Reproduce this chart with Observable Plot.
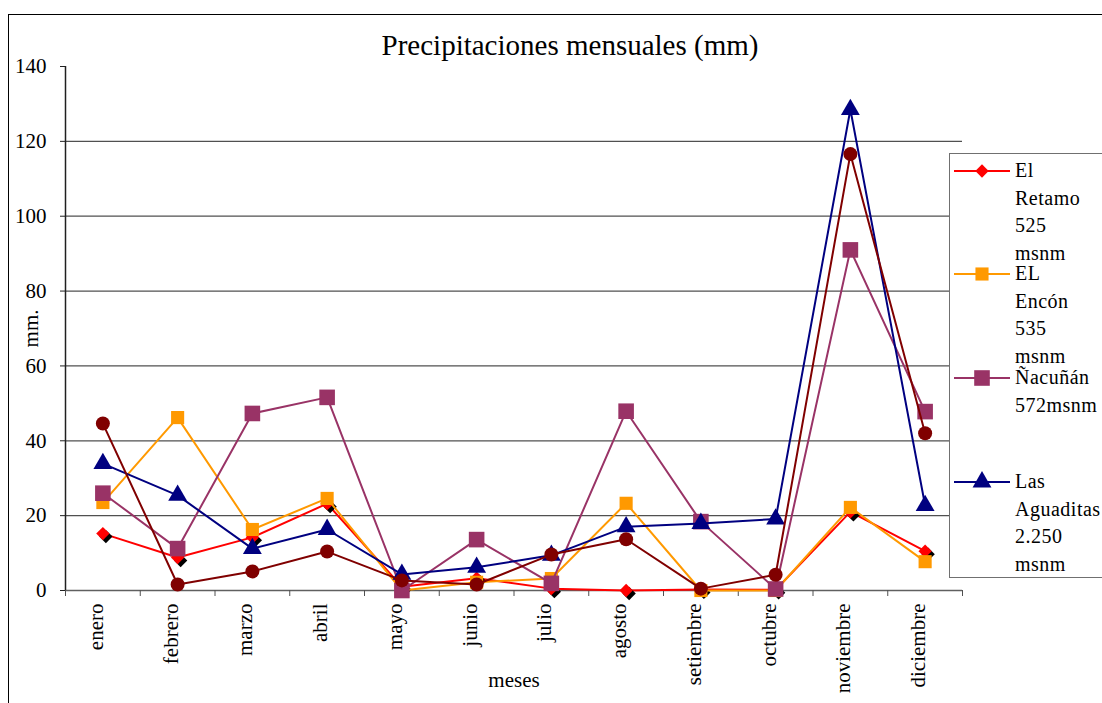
<!DOCTYPE html>
<html>
<head>
<meta charset="utf-8">
<script src="https://cdn.jsdelivr.net/npm/d3@7"></script>
<script src="https://cdn.jsdelivr.net/npm/@observablehq/plot@0.6"></script>
<style>
  html, body { margin: 0; padding: 0; background: #fff; }
  #wrap { position: relative; width: 1102px; height: 703px; overflow: hidden; font-family: "Liberation Serif", "DejaVu Serif", serif; }
  #frame { position: absolute; left: 8px; top: 14px; width: 1200px; height: 800px; border-left: 1.5px solid #000; border-top: 1.5px solid #000; }
  #title { position: absolute; left: 0; width: 1140px; top: 29px; text-align: center; font-size: 29px; color: #000; }
  #chart { position: absolute; left: 0; top: 0; }
  #legend { position: absolute; left: 949px; top: 153px; width: 200px; height: 423px; border: 1.5px solid #707070; background: #fff; }
  .entry { position: absolute; left: 0; }
  .entry svg { position: absolute; left: 4px; top: 0; }
  .entry div { position: absolute; left: 65px; top: 0; font-size: 20px; line-height: 27.6px; white-space: nowrap; color: #000; letter-spacing: 0.5px; }
</style>
</head>
<body>
<div id="wrap">
  <div id="frame"></div>
  <div id="chart"></div>
  <div id="title">Precipitaciones mensuales (mm)</div>
  <div id="legend"></div>
</div>
<script>
const months = ["enero","febrero","marzo","abril","mayo","junio","julio","agosto","setiembre","octubre","noviembre","diciembre"];
const yTicks = [0, 20, 40, 60, 80, 100, 120, 140];

const retamo    = [15.2, 8.8, 14.2, 23.2, 1.0, 3.3, 0.5, 0.0, 0.3, 0.2, 21.0, 10.5];
const encon     = [23.5, 46.2, 16.3, 24.6, 0.0, 2.2, 3.2, 23.3, 0.0, 0.0, 22.2, 7.7];
const nacunan   = [26.0, 11.2, 47.3, 51.6, 0.0, 13.6, 1.9, 47.9, 18.4, 0.4, 91.0, 47.8];
const aguaditas = [33.9, 25.4, 11.2, 16.3, 4.3, 6.2, 9.4, 17.0, 17.9, 19.1, 128.5, 22.7];
const serie5    = [44.6, 1.6, 5.1, 10.4, 2.7, 1.6, 9.6, 13.7, 0.5, 4.2, 116.6, 42.0];

const seriesNames = ["El Retamo 525 msnm", "EL Encón 535 msnm", "Ñacuñán 572msnm", "Las Aguaditas 2.250 msnm", "Serie5"];
const seriesValues = [retamo, encon, nacunan, aguaditas, serie5];
const seriesColors = ["#FF0000", "#FF9900", "#993366", "#000080", "#800000"];
const seriesSymbols = ["diamond2", "square", "square", "triangle", "circle"];
const seriesR = [6, 7.4, 8.8, 7, 7];

const FONT = "Liberation Serif, DejaVu Serif, serif";

const rows = seriesValues.map((vals, s) => vals.map((v, i) => ({series: seriesNames[s], s, i, x: i + 0.5, month: months[i], value: v})));

const marks = [
  Plot.ruleY(yTicks.filter(d => d > 0 && d < 140), {stroke: "#505050", strokeWidth: 1.3}),
  Plot.ruleY([0], {stroke: "#606060", strokeWidth: 1.5}),
  Plot.ruleX([0], {stroke: "#202020", strokeWidth: 1.5}),
  Plot.axisY({ticks: yTicks, tickSize: 5, tickPadding: 14, fontSize: 21, label: null, stroke: "#202020", fontFamily: FONT}),
  Plot.axisX({ticks: d3.range(0, 13), tickSize: 6, tickFormat: () => "", label: null, stroke: "#505050"}),
  Plot.text(months, {x: (d, i) => i + 0.5, frameAnchor: "bottom", rotate: -90, textAnchor: "end", dy: 13, fontSize: 21, fill: "#000", fontFamily: FONT}),
  Plot.text(["meses"], {frameAnchor: "bottom", dy: 96, fontSize: 21, fill: "#000", fontFamily: FONT}),
  Plot.text(["mm."], {frameAnchor: "left", textAnchor: "middle", dx: -34, rotate: -90, fontSize: 21, fill: "#000", fontFamily: FONT})
];

rows.forEach((data, s) => {
  marks.push(Plot.line(data, {x: "x", y: "value", stroke: seriesColors[s], strokeWidth: 2}));
  if (s === 0) {
    marks.push(Plot.dot(data, {x: "x", y: "value", symbol: seriesSymbols[s], r: seriesR[s], fill: "#000", dx: 3, dy: 3}));
  }
  marks.push(Plot.dot(data, {x: "x", y: "value", symbol: seriesSymbols[s], r: seriesR[s], fill: seriesColors[s], stroke: "none"}));
});

const chart = Plot.plot({
  width: 1102,
  height: 703,
  marginLeft: 65,
  marginRight: 140,
  marginTop: 66,
  marginBottom: 113,
  style: {fontFamily: FONT, background: "transparent", color: "#000", overflow: "visible"},
  x: {type: "linear", domain: [0, 12], axis: null},
  y: {domain: [0, 140], axis: null},
  marks
});
document.getElementById("chart").appendChild(chart);

// Legend (only the first four series are visible in the reference)
const legendLines = [["El", "Retamo", "525", "msnm"], ["EL", "Encón", "535", "msnm"], ["Ñacuñán", "572msnm"], ["Las", "Aguaditas", "2.250", "msnm"]];
const legendTops = [3, 106, 210, 314];
const legend = document.getElementById("legend");
legendLines.forEach((lines, s) => {
  const e = document.createElement("div");
  e.className = "entry";
  e.style.top = legendTops[s] + "px";
  const sym = d3.symbol(d3["symbol" + {diamond2: "Diamond2", square: "Square", triangle: "Triangle", circle: "Circle"}[seriesSymbols[s]]], Math.PI * seriesR[s] ** 2)();
  e.innerHTML = `<svg width="60" height="28"><line x1="0" x2="56" y1="14" y2="14" stroke="${seriesColors[s]}" stroke-width="2"/><path d="${sym}" transform="translate(28,14)" fill="${seriesColors[s]}"/></svg><div>${lines.join("<br>")}</div>`;
  legend.appendChild(e);
});
</script>
</body>
</html>
